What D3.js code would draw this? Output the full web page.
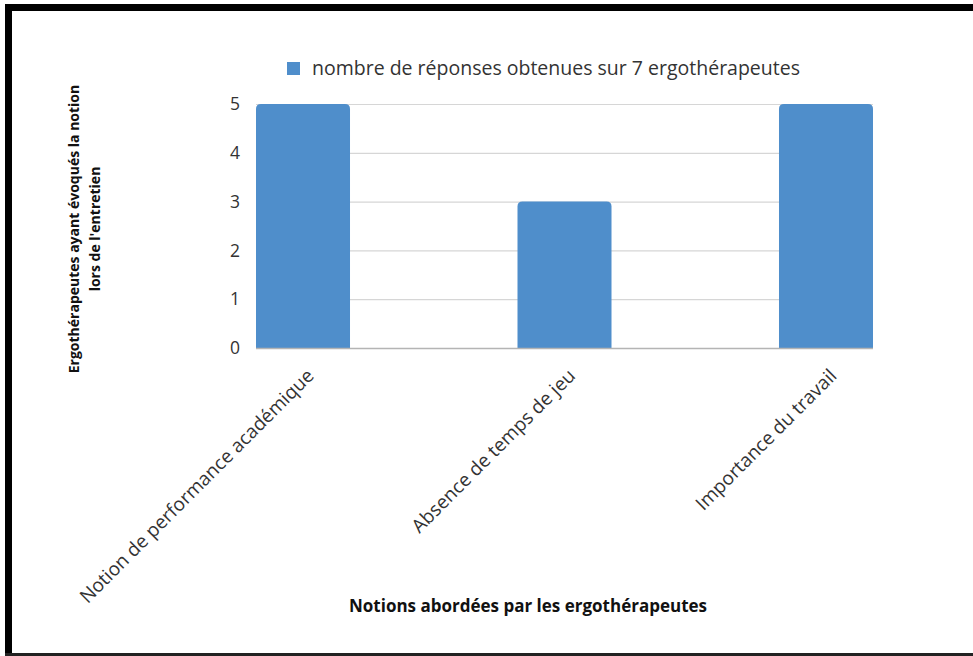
<!DOCTYPE html>
<html>
<head>
<meta charset="utf-8">
<script src="https://cdn.jsdelivr.net/npm/d3@7"></script>
<style>
  html, body { margin: 0; padding: 0; background: #fff; overflow: hidden; width: 973px; height: 656px; }
  svg { display: block; }
</style>
</head>
<body>
<svg id="chart" width="973" height="656"></svg>
<script>
const categories = ["Notion de performance académique", "Absence de temps de jeu", "Importance du travail"];
const values = [5, 3, 5];
const yTicks = [0, 1, 2, 3, 4, 5];
const seriesName = "nombre de réponses obtenues sur 7 ergothérapeutes";
const yTitleLines = ["Ergothérapeutes ayant évoqués la notion", "lors de l'entretien"];
const xTitle = "Notions abordées par les ergothérapeutes";

const W = 973, H = 656;
const svg = d3.select("#chart");
const font = "'Open Sans', sans-serif";
const barColor = "#4f8ecb";
const textColor = "#333";

// frame (top, left, bottom only; right edge is outside the picture)
svg.append("line").attr("x1", 5).attr("x2", W).attr("y1", 7.5).attr("y2", 7.5)
  .attr("stroke", "#000").attr("stroke-width", 7);
svg.append("line").attr("x1", 8.5).attr("x2", 8.5).attr("y1", 4).attr("y2", H)
  .attr("stroke", "#000").attr("stroke-width", 7);
svg.append("line").attr("x1", 5).attr("x2", W).attr("y1", 654.5).attr("y2", 654.5)
  .attr("stroke", "#222").attr("stroke-width", 3);

const plot = { left: 256, right: 873, top: 104, bottom: 348 };

const x = d3.scaleBand().domain(categories).range([plot.left, plot.right])
  .paddingInner(0.6405).paddingOuter(0);
const y = d3.scaleLinear().domain([0, 5]).range([plot.bottom, plot.top]);

// gridlines
svg.append("g").selectAll("line").data(yTicks.filter(d => d > 0)).join("line")
  .attr("x1", plot.left).attr("x2", plot.right)
  .attr("y1", d => y(d) + 0.5).attr("y2", d => y(d) + 0.5)
  .attr("stroke", "#d6d6d6").attr("stroke-width", 1.2);

// bars with rounded top corners
const r = 5;
svg.append("g").selectAll("path").data(values).join("path")
  .attr("fill", barColor)
  .attr("d", (d, i) => {
    const x0 = x(categories[i]), w = x.bandwidth();
    const yt = y(d), yb = y(0);
    return `M${x0},${yb} L${x0},${yt + r} Q${x0},${yt} ${x0 + r},${yt} L${x0 + w - r},${yt} Q${x0 + w},${yt} ${x0 + w},${yt + r} L${x0 + w},${yb} Z`;
  });

// baseline
svg.append("line").attr("x1", plot.left).attr("x2", plot.right)
  .attr("y1", y(0) + 0.5).attr("y2", y(0) + 0.5)
  .attr("stroke", "#b4b4b4").attr("stroke-width", 1.5);

// y axis labels
const yAxis = d3.axisLeft(y).tickValues(yTicks).tickSize(0).tickPadding(16).tickFormat(d3.format("d"));
const yg = svg.append("g").attr("transform", `translate(${plot.left},0)`).call(yAxis);
yg.select(".domain").remove();
yg.selectAll("text").attr("font-family", font).attr("font-size", 17.5).attr("fill", textColor);

// x axis labels
const xAxis = d3.axisBottom(x).tickSize(0).tickPadding(0);
const xg = svg.append("g").attr("transform", `translate(0,${plot.bottom})`).call(xAxis);
xg.select(".domain").remove();
xg.selectAll("text")
  .attr("font-family", font).attr("font-size", 19).attr("fill", textColor)
  .attr("text-anchor", "end")
  .attr("dy", null).attr("y", 0)
  .attr("transform", "translate(12,29) rotate(-45)");

// legend
const lg = svg.append("g");
lg.append("rect").attr("x", 287).attr("y", 62).attr("width", 13).attr("height", 13).attr("fill", barColor);
lg.append("text").attr("x", 312).attr("y", 75)
  .attr("font-family", font).attr("font-size", 19.5).attr("fill", textColor)
  .text(seriesName);

// y title
const yt = svg.append("text")
  .attr("transform", "translate(79,229) rotate(-90)")
  .attr("text-anchor", "middle")
  .attr("font-family", font).attr("font-weight", "bold").attr("font-size", 14).attr("fill", "#111");
yTitleLines.forEach((t, i) => {
  yt.append("tspan").attr("x", 0).attr("dy", i === 0 ? 0 : 21).text(t);
});

// x title
svg.append("text").attr("x", 528).attr("y", 612)
  .attr("text-anchor", "middle")
  .attr("font-family", font).attr("font-weight", "bold").attr("font-size", 17).attr("fill", "#111")
  .text(xTitle);
</script>
</body>
</html>
